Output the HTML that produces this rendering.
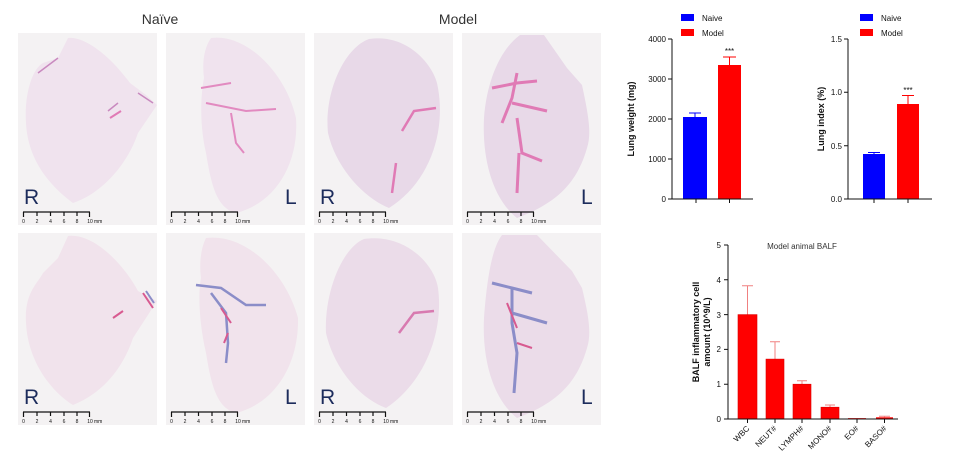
<!DOCTYPE html>
<html><head><meta charset="utf-8"><style>
html,body{margin:0;padding:0;background:#fff;}
svg{display:block;font-family:"Liberation Sans",Arial,sans-serif;}
</style></head><body>
<svg width="954" height="465" viewBox="0 0 954 465" xmlns="http://www.w3.org/2000/svg">
<defs>
<g id="bar">
  <line x1="5" y1="179" x2="72" y2="179" stroke="#111" stroke-width="1.3"/>
  <g stroke="#111" stroke-width="1.2">
   <line x1="5.5" y1="179" x2="5.5" y2="184"/><line x1="19" y1="179" x2="19" y2="183"/><line x1="32.5" y1="179" x2="32.5" y2="183"/><line x1="46" y1="179" x2="46" y2="183"/><line x1="59" y1="179" x2="59" y2="183"/><line x1="71.5" y1="179" x2="71.5" y2="184"/>
  </g>
  <g font-size="5" fill="#111" text-anchor="middle"><text x="5.5" y="190">0</text><text x="19" y="190">2</text><text x="32.5" y="190">4</text><text x="46" y="190">6</text><text x="59" y="190">8</text><text x="72" y="190">10</text></g>
  <text x="76" y="190" font-size="5" fill="#111">mm</text>
</g>
</defs>
<text x="160" y="24" font-size="14" text-anchor="middle" fill="#333">Naïve</text>
<text x="458" y="24" font-size="14" text-anchor="middle" fill="#333">Model</text>

<!-- Row 1 -->
<g transform="translate(18,33)">
 <rect width="139" height="192" fill="#f4f2f3"/>
 <path d="M50,5 C65,3 90,20 112,50 L128,62 L139,72 L120,100 C110,130 85,160 55,170 C35,155 10,130 8,90 C6,60 15,35 25,30 L40,25 Z" fill="#f0e3ee"/>
 <path d="M90,78 L100,70 M40,25 L20,40 M120,60 L135,70" stroke="#c98abf" stroke-width="1.5" fill="none"/>
 <path d="M92,85 L103,78" stroke="#e07ab5" stroke-width="2" fill="none"/>
 <text x="6" y="171" font-size="21" fill="#1c2c5c">R</text>
 <use href="#bar"/>
</g>
<g transform="translate(166,33)">
 <rect width="139" height="192" fill="#f4f2f3"/>
 <path d="M45,5 C80,0 120,40 130,85 C133,130 110,170 70,180 C50,175 45,150 40,120 C33,90 35,60 38,45 C36,30 38,15 45,5Z" fill="#f0e3ee"/>
 <path d="M35,55 L65,50 M40,70 L80,78 L110,76 M65,80 L70,110 L78,120" stroke="#e28ac0" stroke-width="2" fill="none"/>
 <text x="119" y="171" font-size="21" fill="#1c2c5c">L</text>
 <use href="#bar"/>
</g>
<g transform="translate(314,33)">
 <rect width="139" height="192" fill="#f4f2f3"/>
 <path d="M55,6 C95,0 122,35 124,55 C132,100 115,150 75,175 C50,165 22,135 14,100 C10,60 30,15 55,6Z" fill="#e8d9e8"/>
 <path d="M88,98 L100,78 L122,75 M82,130 L78,160" stroke="#e07ab5" stroke-width="2.5" fill="none"/>
 <text x="6" y="171" font-size="21" fill="#1c2c5c">R</text>
 <use href="#bar"/>
</g>
<g transform="translate(462,33)">
 <rect width="139" height="192" fill="#f4f2f3"/>
 <path d="M58,2 L82,2 L105,35 L120,52 C126,80 130,100 125,115 C115,150 95,170 55,185 C30,165 20,125 22,85 C25,45 40,15 58,2Z" fill="#e8d9e8"/>
 <path d="M30,55 L55,50 L75,48 M55,40 L50,65 L40,90 M50,70 L85,78 M55,85 L60,120 L80,128 M57,120 L55,160" stroke="#e07ab5" stroke-width="3" fill="none"/>
 <text x="119" y="171" font-size="21" fill="#1c2c5c">L</text>
 <use href="#bar"/>
</g>

<!-- Row 2 -->
<g transform="translate(18,233)">
 <rect width="139" height="192" fill="#f4f2f3"/>
 <path d="M50,3 C75,0 105,30 120,58 L139,68 L115,105 C105,135 85,160 55,172 C35,160 10,130 8,90 C6,60 20,50 25,40 L40,25 Z" fill="#f1e3ec"/>
 <path d="M95,85 L105,78 M125,60 L135,75" stroke="#d85a90" stroke-width="2" fill="none"/>
 <path d="M128,58 L136,70" stroke="#8b8dc8" stroke-width="2" fill="none"/>
 <text x="6" y="171" font-size="21" fill="#1c2c5c">R</text>
 <use href="#bar"/>
</g>
<g transform="translate(166,233)">
 <rect width="139" height="192" fill="#f4f2f3"/>
 <path d="M40,5 C80,0 120,40 132,85 C133,130 110,170 70,180 C50,175 45,150 40,120 C33,90 32,60 35,45 C33,30 35,15 40,5Z" fill="#f1e3ec"/>
 <path d="M30,52 L55,55 L80,72 L100,72 M45,60 L60,80 L62,110 L60,130" stroke="#8b8dc8" stroke-width="2.5" fill="none"/>
 <path d="M55,75 L65,90 M62,100 L58,110" stroke="#d85a90" stroke-width="2" fill="none"/>
 <text x="119" y="171" font-size="21" fill="#1c2c5c">L</text>
 <use href="#bar"/>
</g>
<g transform="translate(314,233)">
 <rect width="139" height="192" fill="#f4f2f3"/>
 <path d="M50,6 C90,0 120,30 124,55 C130,100 110,150 72,175 C45,165 20,135 12,100 C10,60 28,15 50,6Z" fill="#ebdce9"/>
 <path d="M85,100 L100,80 L120,78" stroke="#d87ab0" stroke-width="2.5" fill="none"/>
 <text x="6" y="171" font-size="21" fill="#1c2c5c">R</text>
 <use href="#bar"/>
</g>
<g transform="translate(462,233)">
 <rect width="139" height="192" fill="#f4f2f3"/>
 <path d="M40,2 L75,2 L110,38 L120,55 C126,80 130,100 125,115 C115,150 95,170 55,185 C30,165 20,125 22,85 C25,45 30,15 40,2Z" fill="#ebdce9"/>
 <path d="M30,50 L50,55 L70,60 M50,55 L50,90 L55,120 L52,160 M50,80 L85,90" stroke="#8b8dc8" stroke-width="3" fill="none"/>
 <path d="M45,70 L55,95 M55,110 L70,115" stroke="#d85a90" stroke-width="2" fill="none"/>
 <text x="119" y="171" font-size="21" fill="#1c2c5c">L</text>
 <use href="#bar"/>
</g>

<!-- Chart 1: Lung weight -->
<g font-size="8" fill="#111">
 <rect x="681" y="14" width="13" height="7" fill="#0000ff"/><text x="702" y="21">Naive</text>
 <rect x="681" y="29" width="13" height="7" fill="#ff0000"/><text x="702" y="36">Model</text>
 <rect x="683" y="117" width="24" height="82" fill="#0000ff"/>
 <rect x="718" y="65" width="23" height="134" fill="#ff0000"/>
 <path d="M695,117 V113 M689,113 H701" stroke="#0000ff" stroke-width="1"/>
 <path d="M729.5,65 V57 M723,57 H736" stroke="#ff0000" stroke-width="1"/>
 <text x="729.5" y="54" text-anchor="middle" font-size="8">***</text>
 <path d="M672,39 V199 H753 M668,39 H672 M668,79 H672 M668,119 H672 M668,159 H672 M668,199 H672 M696,199 V203 M729.5,199 V203" stroke="#111" stroke-width="1" fill="none"/>
 <g text-anchor="end"><text x="666" y="42">4000</text><text x="666" y="82">3000</text><text x="666" y="122">2000</text><text x="666" y="162">1000</text><text x="666" y="202">0</text></g>
 <text transform="translate(634,119) rotate(-90)" text-anchor="middle" font-weight="bold" font-size="9">Lung weight (mg)</text>
</g>

<!-- Chart 2: Lung index -->
<g font-size="8" fill="#111">
 <rect x="860" y="14" width="13" height="7" fill="#0000ff"/><text x="881" y="21">Naive</text>
 <rect x="860" y="29" width="13" height="7" fill="#ff0000"/><text x="881" y="36">Model</text>
 <rect x="863" y="154" width="22" height="45" fill="#0000ff"/>
 <rect x="897" y="104" width="22" height="95" fill="#ff0000"/>
 <path d="M874,154 V152.5 M868,152.5 H880" stroke="#0000ff" stroke-width="1"/>
 <path d="M908,104 V95.5 M902,95.5 H914" stroke="#ff0000" stroke-width="1"/>
 <text x="908" y="93" text-anchor="middle">***</text>
 <path d="M848,39 V199 H932 M844,39 H848 M844,92.3 H848 M844,145.7 H848 M844,199 H848 M874,199 V203 M908,199 V203" stroke="#111" stroke-width="1" fill="none"/>
 <g text-anchor="end"><text x="842" y="42">1.5</text><text x="842" y="95">1.0</text><text x="842" y="149">0.5</text><text x="842" y="202">0.0</text></g>
 <text transform="translate(824,119) rotate(-90)" text-anchor="middle" font-weight="bold" font-size="9">Lung index (%)</text>
</g>

<!-- Chart 3: BALF -->
<g font-size="8" fill="#111">
 <text x="802" y="249" text-anchor="middle" fill="#333">Model animal BALF</text>
 <g stroke="#f08080" stroke-width="1">
  <path d="M747.5,314.6 V285.7 M742,285.7 H753"/>
  <path d="M775,359.1 V341.7 M770,341.7 H780"/>
  <path d="M802,384.2 V380.7 M797,380.7 H807"/>
  <path d="M830,407.2 V405 M825,405 H835"/>
  <path d="M884.5,417.3 V416.2 M879,416.2 H890"/>
 </g>
 <rect x="738" y="314.6" width="19" height="104.4" fill="#ff0000" stroke="#d00" stroke-width="0.6"/>
 <rect x="766" y="359.1" width="18" height="59.9" fill="#ff0000" stroke="#d00" stroke-width="0.6"/>
 <rect x="793" y="384.2" width="18" height="34.8" fill="#ff0000" stroke="#d00" stroke-width="0.6"/>
 <rect x="821" y="407.2" width="18" height="11.8" fill="#ff0000" stroke="#d00" stroke-width="0.6"/>
 <line x1="848" y1="418.6" x2="866" y2="418.6" stroke="#ff0000" stroke-width="1"/>
 <rect x="876" y="417.3" width="17" height="1.7" fill="#ff0000"/>
 <path d="M728,245 V419 H898 M724,245 H728 M724,279.8 H728 M724,314.6 H728 M724,349.4 H728 M724,384.2 H728 M724,419 H728 M747.5,419 V423 M775,419 V423 M802,419 V423 M830,419 V423 M857,419 V423 M884.5,419 V423" stroke="#111" stroke-width="1" fill="none"/>
 <g text-anchor="end"><text x="721" y="248">5</text><text x="721" y="283">4</text><text x="721" y="318">3</text><text x="721" y="352">2</text><text x="721" y="387">1</text><text x="721" y="422">0</text></g>
 <text transform="translate(699,332) rotate(-90)" text-anchor="middle" font-weight="bold" font-size="9">BALF inflammatory cell</text>
 <text transform="translate(710,332) rotate(-90)" text-anchor="middle" font-weight="bold" font-size="9">amount (10^9/L)</text>
 <g text-anchor="end" font-size="8">
  <text transform="translate(750,429) rotate(-45)">WBC</text>
  <text transform="translate(777,429) rotate(-45)">NEUT#</text>
  <text transform="translate(804,429) rotate(-45)">LYMPH#</text>
  <text transform="translate(832,429) rotate(-45)">MONO#</text>
  <text transform="translate(859,429) rotate(-45)">EO#</text>
  <text transform="translate(887,429) rotate(-45)">BASO#</text>
 </g>
</g>
</svg>
</body></html>
